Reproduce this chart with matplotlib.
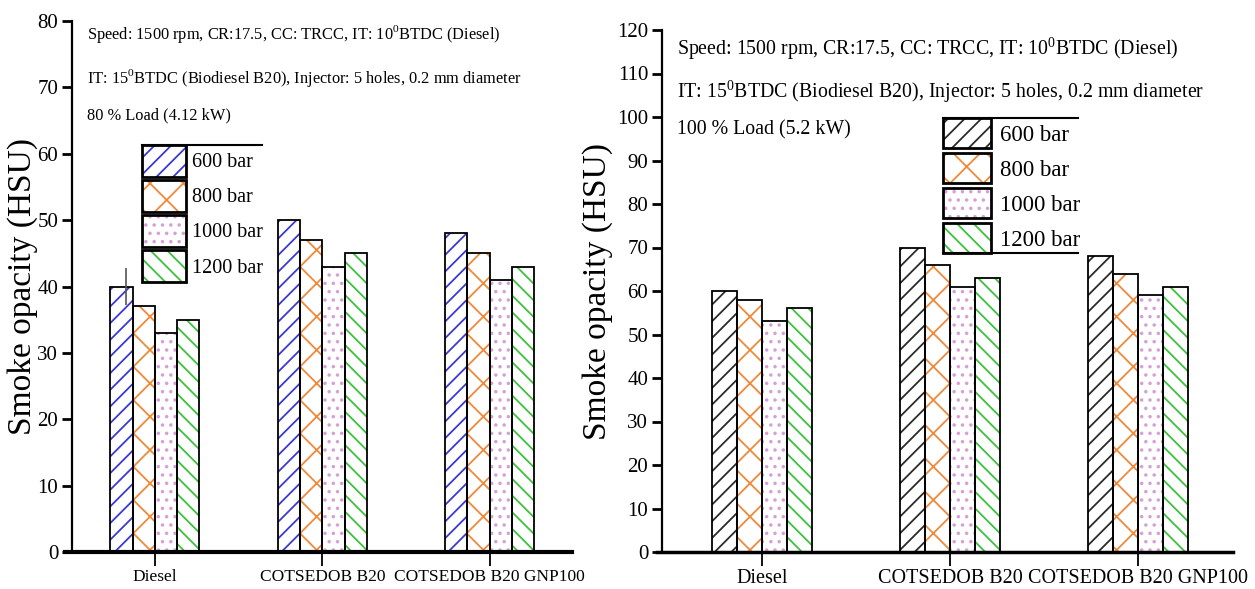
import numpy as np
import matplotlib
matplotlib.use("Agg")

import matplotlib.pyplot as plt
from matplotlib.patches import Patch
from matplotlib.lines import Line2D
from matplotlib.legend_handler import HandlerTuple

plt.rcParams.update({
    "font.family": "Liberation Serif",
    "mathtext.fontset": "custom",
    "mathtext.rm": "Liberation Serif",
    "hatch.linewidth": 1.3,
})

W, H = 1255, 589

fuels = ["Diesel", "COTSEDOB B20", "COTSEDOB B20 GNP100"]
pressures = ["600 bar", "800 bar", "1000 bar", "1200 bar"]

# smoke opacity (HSU), one list per injection pressure, across fuels
smoke_80_load = [[40, 50, 48],
                 [37, 47, 45],
                 [33, 43, 41],
                 [35, 45, 43]]
smoke_100_load = [[60, 70, 68],
                  [58, 66, 64],
                  [53, 61, 59],
                  [56, 63, 61]]
diesel_600_err = 2.8

notes_80 = ["Speed: 1500 rpm, CR:17.5, CC: TRCC, IT: 10$^{0}$BTDC (Diesel)",
            "IT: 15$^{0}$BTDC (Biodiesel B20), Injector: 5 holes, 0.2 mm diameter",
            "80 % Load (4.12 kW)"]
notes_100 = ["Speed: 1500 rpm, CR:17.5, CC: TRCC, IT: 10$^{0}$BTDC (Diesel)",
             "IT: 15$^{0}$BTDC (Biodiesel B20), Injector: 5 holes, 0.2 mm diameter",
             "100 % Load (5.2 kW)"]

hatches = ["//", "x", "..", "\\\\"]
colors_80 = ["#3a3ad2", "#f0893a", "#d6a0d6", "#3cc23c"]
colors_100 = ["#2b2b2b", "#f0893a", "#d6a0d6", "#3cc23c"]


def fx(x):
    return x / W


def fy(y):
    return 1 - y / H


def draw_panel(ax, values, colors, ymax, xlim, yspine, bar_w, tick_fs, cat_fs, bottom_lw):
    x = np.arange(len(fuels))
    handles = []
    for i, (vals, c, h) in enumerate(zip(values, colors, hatches)):
        pos = x + (i - 1.5) * bar_w
        ax.bar(pos, vals, bar_w, color="white", edgecolor=c, hatch=h, linewidth=0, zorder=2)
        ax.bar(pos, vals, bar_w, color="none", edgecolor="k", linewidth=1.3, zorder=3)
        handles.append((Patch(facecolor="white", edgecolor=c, hatch=h, linewidth=0),
                        Patch(facecolor="none", edgecolor="k", linewidth=2)))

    ax.set_xlim(*xlim)
    ax.set_ylim(0, ymax)
    ax.spines["top"].set_visible(False)
    ax.spines["right"].set_visible(False)
    ax.spines["left"].set_position(("data", yspine))
    ax.spines["left"].set_linewidth(1.6)
    ax.spines["bottom"].set_linewidth(bottom_lw)
    ax.spines["left"].set_bounds(0, ymax)

    ax.set_yticks(np.arange(0, ymax + 1, 10))
    ax.set_xticks(x)
    ax.set_xticklabels(fuels)
    ax.tick_params(axis="y", direction="out", length=7, width=2, labelsize=tick_fs, pad=3)
    ax.tick_params(axis="x", direction="out", length=10, width=1.3, labelsize=cat_fs, pad=2)
    ax.patch.set_visible(False)
    return handles


fig = plt.figure(figsize=(W / 100, H / 100), dpi=100)

# left panel: 80 % load
ax1 = fig.add_axes([fx(65), fy(552), fx(572) - fx(65), fy(21) - fy(552)])
h1 = draw_panel(ax1, smoke_80_load, colors_80, 80, (-0.538, 2.493), -0.496, 0.133, 15, 12.5, 3)
ax1.errorbar(-1.5 * 0.133 + 0.027, smoke_80_load[0][0], yerr=diesel_600_err,
             fmt="none", ecolor="#555555", elinewidth=1.2, capsize=0, zorder=4)
ax1.set_ylabel("Smoke opacity (HSU)", fontsize=24)
ax1.yaxis.set_label_coords(-0.053, 0.5)

for txt, y in zip(notes_80, [34, 78, 115]):
    fig.text(fx(87), fy(y), txt, fontsize=11.8, va="center", ha="left")

leg1 = ax1.legend(h1, pressures, handler_map={tuple: HandlerTuple(ndivide=1)},
                  loc="upper left", bbox_to_anchor=(fx(142), fy(145)),
                  bbox_transform=fig.transFigure, frameon=False, fontsize=14.5,
                  handlelength=2.2, handleheight=2.07, labelspacing=0.15,
                  handletextpad=0.3, borderpad=0, borderaxespad=0)
fig.add_artist(Line2D([fx(142), fx(262)], [fy(145), fy(145)], color="k", lw=1.5))

# right panel: 100 % load
ax2 = fig.add_axes([fx(657), fy(552), fx(1233) - fx(657), fy(30) - fy(552)])
h2 = draw_panel(ax2, smoke_100_load, colors_100, 120, (-0.559, 2.505), -0.532, 0.133, 15, 14.5, 2.5)
ax2.set_ylabel("Smoke opacity (HSU)", fontsize=24)
ax2.yaxis.set_label_coords(-0.077, 0.5)

for txt, y in zip(notes_100, [49, 92, 130]):
    fig.text(fx(677), fy(y), txt, fontsize=14.3, va="center", ha="left")

leg2 = ax2.legend(h2, pressures, handler_map={tuple: HandlerTuple(ndivide=1)},
                  loc="upper left", bbox_to_anchor=(fx(943), fy(118)),
                  bbox_transform=fig.transFigure, frameon=False, fontsize=16.5,
                  handlelength=2.1, handleheight=1.64, labelspacing=0.22,
                  handletextpad=0.4, borderpad=0, borderaxespad=0)
fig.add_artist(Line2D([fx(943), fx(1078)], [fy(118), fy(118)], color="k", lw=1.5))
fig.add_artist(Line2D([fx(943), fx(1078)], [fy(253), fy(253)], color="k", lw=1.5))

fig.savefig("out.png", dpi=100)
